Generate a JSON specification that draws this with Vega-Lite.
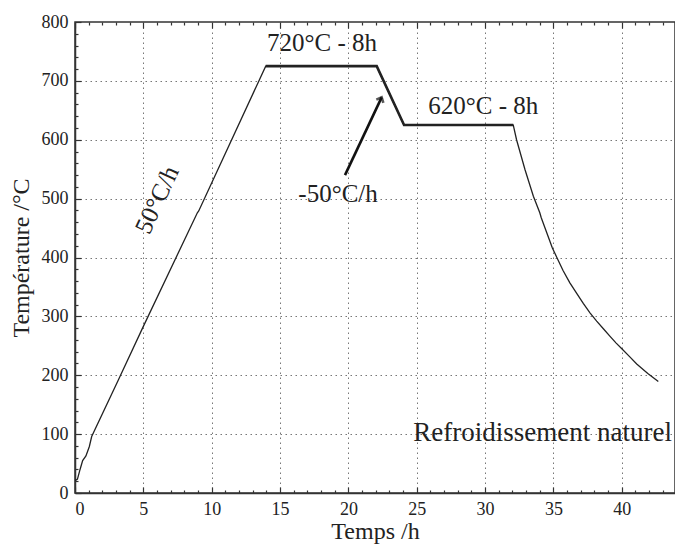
{
  "$schema": "https://vega.github.io/schema/vega-lite/v6.json",
  "width": 600,
  "height": 471,
  "autosize": {"type": "none"},
  "padding": {"left": 75, "top": 22, "right": 0, "bottom": 51},
  "background": "white",
  "config": {
    "view": {"stroke": "#333", "strokeWidth": 1.5},
    "font": "Liberation Serif",
    "axis": {
      "labelFont": "Liberation Serif",
      "labelFontSize": 18,
      "labelColor": "#222",
      "labelOverlap": false,
      "titleFont": "Liberation Serif",
      "titleFontSize": 24,
      "titleFontWeight": "normal",
      "titleColor": "#222",
      "domainColor": "#333",
      "domainWidth": 1.5,
      "tickColor": "#333",
      "tickWidth": 1.2,
      "gridColor": "#777",
      "gridDash": [1.5, 3.5],
      "gridWidth": 1
    }
  },
  "resolve": {"axis": {"x": "independent", "y": "independent"}},
  "datasets": {
    "mesure": [
      {"t": 0, "T": 21, "palier": false},
      {"t": 0.18, "T": 23.5, "palier": false},
      {"t": 0.37, "T": 40, "palier": false},
      {"t": 0.56, "T": 55, "palier": false},
      {"t": 0.8, "T": 63, "palier": false},
      {"t": 1.05, "T": 79, "palier": false},
      {"t": 1.22, "T": 96, "palier": false},
      {"t": 3.17, "T": 192, "palier": false},
      {"t": 5, "T": 283, "palier": false},
      {"t": 8.95, "T": 476, "palier": false},
      {"t": 9.05, "T": 479, "palier": false},
      {"t": 13.95, "T": 725, "palier": true},
      {"t": 22.07, "T": 725, "palier": true},
      {"t": 24.07, "T": 625, "palier": true},
      {"t": 32.06, "T": 625, "palier": true},
      {"t": 32.3, "T": 600, "palier": false},
      {"t": 32.92, "T": 549, "palier": false},
      {"t": 33.53, "T": 504, "palier": false},
      {"t": 34.0, "T": 476, "palier": false},
      {"t": 34.1, "T": 468, "palier": false},
      {"t": 34.92, "T": 416, "palier": false},
      {"t": 35.23, "T": 401, "palier": false},
      {"t": 35.7, "T": 378, "palier": false},
      {"t": 36.2, "T": 357, "palier": false},
      {"t": 36.7, "T": 339, "palier": false},
      {"t": 37.18, "T": 322, "palier": false},
      {"t": 37.67, "T": 306, "palier": false},
      {"t": 38.16, "T": 292, "palier": false},
      {"t": 38.65, "T": 279, "palier": false},
      {"t": 39.14, "T": 266, "palier": false},
      {"t": 39.57, "T": 255, "palier": false},
      {"t": 40.0, "T": 245, "palier": false},
      {"t": 40.55, "T": 232, "palier": false},
      {"t": 41.09, "T": 219, "palier": false},
      {"t": 41.9, "T": 203, "palier": false},
      {"t": 42.67, "T": 189.5, "palier": false}
    ],
    "fleche": [
      {"t": 19.75, "T": 540},
      {"t": 22.43, "T": 672}
    ]
  },
  "layer": [
    {
      "data": {"name": "mesure"},
      "mark": {"type": "line", "color": "#222", "strokeWidth": 1.3, "clip": true},
      "encoding": {
        "x": {
          "field": "t", "type": "quantitative",
          "scale": {"domain": [0, 43.89], "nice": false, "zero": false},
          "axis": {
            "orient": "bottom",
            "title": "Temps /h",
            "titlePadding": -2,
            "values": [0,1,2,3,4,5,6,7,8,9,10,11,12,13,14,15,16,17,18,19,20,21,22,23,24,25,26,27,28,29,30,31,32,33,34,35,36,37,38,39,40,41,42,43],
            "labelExpr": "datum.value % 5 === 0 ? datum.label : ''",
            "labelFont": "Liberation Serif",
            "labelFontSize": 18,
            "tickSize": {"condition": {"test": "datum.value % 5 === 0", "value": -6}, "value": -3},
            "labelPadding": 13,
            "grid": true,
            "gridOpacity": {"condition": {"test": "datum.value % 5 === 0 && datum.value > 0", "value": 1}, "value": 0},
            "encode": {"labels": {"update": {"font": {"value": "Liberation Serif"}, "fontSize": {"value": 18}}}}
          }
        },
        "y": {
          "field": "T", "type": "quantitative",
          "scale": {"domain": [0, 800], "nice": false},
          "axis": {
            "orient": "left",
            "title": "Température /°C",
            "titlePadding": 8,
            "values": [0,20,40,60,80,100,120,140,160,180,200,220,240,260,280,300,320,340,360,380,400,420,440,460,480,500,520,540,560,580,600,620,640,660,680,700,720,740,760,780,800],
            "labelExpr": "datum.value % 100 === 0 ? datum.label : ''",
            "labelFont": "Liberation Serif",
            "labelFontSize": 18,
            "tickSize": {"condition": {"test": "datum.value % 100 === 0", "value": -6}, "value": -3},
            "labelPadding": 13,
            "grid": true,
            "gridOpacity": {"condition": {"test": "datum.value % 100 === 0 && datum.value > 0 && datum.value < 800", "value": 1}, "value": 0},
            "encode": {"labels": {"update": {"font": {"value": "Liberation Serif"}, "fontSize": {"value": 18}}}}
          }
        }
      }
    },
    {
      "data": {"name": "mesure"},
      "transform": [{"filter": "datum.palier"}],
      "mark": {"type": "line", "color": "#222", "strokeWidth": 2.6},
      "encoding": {
        "x": {
          "field": "t", "type": "quantitative",
          "axis": {
            "orient": "top",
            "title": null,
            "values": [0,1,2,3,4,5,6,7,8,9,10,11,12,13,14,15,16,17,18,19,20,21,22,23,24,25,26,27,28,29,30,31,32,33,34,35,36,37,38,39,40,41,42,43],
            "labels": false,
            "domain": false,
            "grid": false,
            "tickSize": {"condition": {"test": "datum.value % 5 === 0", "value": -6}, "value": -3}
          }
        },
        "y": {"field": "T", "type": "quantitative", "axis": null}
      }
    },
    {
      "data": {"name": "fleche"},
      "mark": {"type": "line", "color": "#111", "strokeWidth": 2.6},
      "encoding": {
        "x": {"field": "t", "type": "quantitative", "axis": null},
        "y": {"field": "T", "type": "quantitative", "axis": null}
      }
    },
    {
      "data": {"name": "fleche"},
      "transform": [{"filter": "datum.T > 600"}],
      "mark": {"type": "point", "shape": "M -1 1.1 L 0 0 L 1 1.1", "filled": false, "stroke": "#111", "strokeWidth": 2.6, "size": 60, "angle": 25, "strokeJoin": "miter"},
      "encoding": {
        "x": {"field": "t", "type": "quantitative", "axis": null},
        "y": {"field": "T", "type": "quantitative", "axis": null}
      }
    },
    {
      "data": {"values": [
        {"t": 18.07, "T": 750, "txt": "720°C - 8h"},
        {"t": 29.87, "T": 644, "txt": "620°C - 8h"},
        {"t": 19.24, "T": 495, "txt": "-50°C/h"}
      ]},
      "mark": {"type": "text", "font": "Liberation Serif", "fontSize": 25, "color": "#222", "baseline": "alphabetic", "align": "center"},
      "encoding": {
        "x": {"field": "t", "type": "quantitative", "axis": null},
        "y": {"field": "T", "type": "quantitative", "axis": null},
        "text": {"field": "txt"}
      }
    },
    {
      "data": {"values": [{"t": 6.0, "T": 498, "txt": "50°C/h"}]},
      "mark": {"type": "text", "font": "Liberation Serif", "fontSize": 25, "color": "#222", "baseline": "middle", "align": "center", "angle": -65},
      "encoding": {
        "x": {"field": "t", "type": "quantitative", "axis": null},
        "y": {"field": "T", "type": "quantitative", "axis": null},
        "text": {"field": "txt"}
      }
    },
    {
      "data": {"values": [{"t": 43.67, "T": 87.6, "txt": "Refroidissement naturel"}]},
      "mark": {"type": "text", "font": "Liberation Serif", "fontSize": 27, "color": "#222", "baseline": "alphabetic", "align": "right"},
      "encoding": {
        "x": {"field": "t", "type": "quantitative", "axis": null},
        "y": {"field": "T", "type": "quantitative", "axis": null},
        "text": {"field": "txt"}
      }
    }
  ]
}
